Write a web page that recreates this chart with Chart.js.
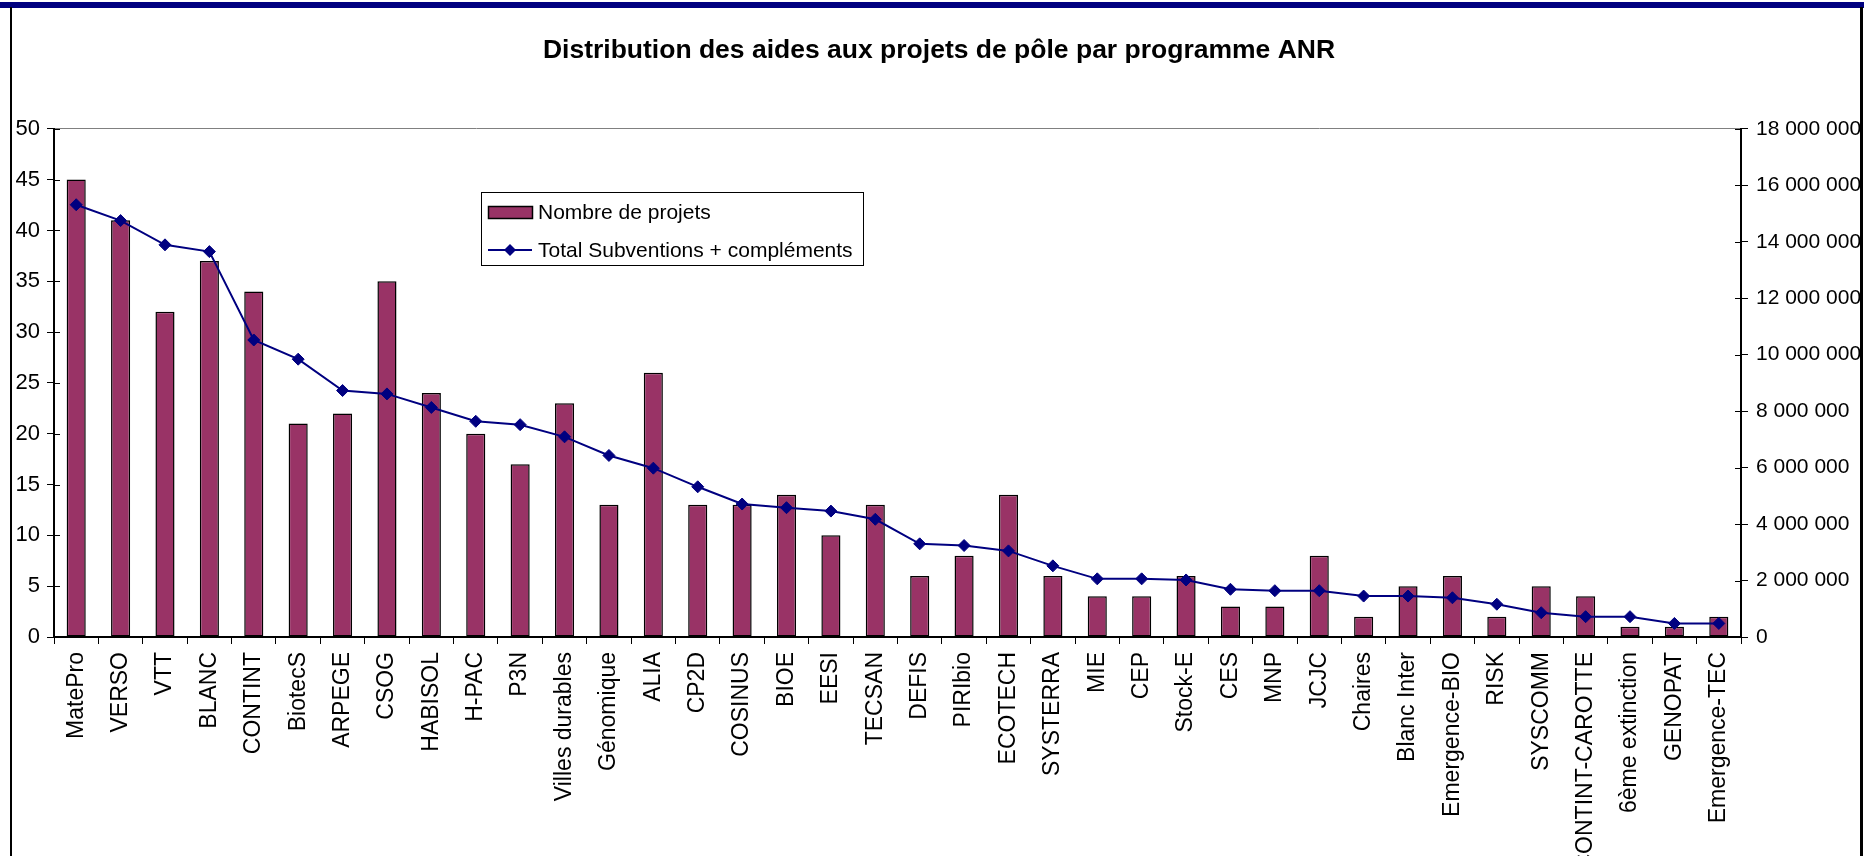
<!DOCTYPE html>
<html>
<head>
<meta charset="utf-8">
<script src="https://cdn.jsdelivr.net/npm/chart.js@4.4.0/dist/chart.umd.min.js"></script>
<style>
  html, body { margin: 0; padding: 0; background: #fff; overflow: hidden; }
  #wrap { position: relative; width: 1864px; height: 856px; overflow: hidden; }
  #topbar { position: absolute; left: 0; top: 2px; width: 1864px; height: 6px; background: #000080; }
  #frameL { position: absolute; left: 10px; top: 7px; width: 2px; height: 849px; background: #000; }
  #frameR { position: absolute; left: 1860px; top: 7px; width: 3px; height: 849px; background: #000; }
  canvas { position: absolute; left: 0; top: 0; }
</style>
</head>
<body>
<div id="wrap">
  <canvas id="canvas" width="1864" height="856"></canvas>
  <div id="topbar"></div>
  <div id="frameL"></div>
  <div id="frameR"></div>
</div>
<script>
const FONT = "'Liberation Sans', Arial, sans-serif";

const categories = ["MatePro", "VERSO", "VTT", "BLANC", "CONTINT", "BiotecS", "ARPEGE", "CSOG",
    "HABISOL", "H-PAC", "P3N", "Villes durables", "Génomique", "ALIA", "CP2D", "COSINUS",
    "BIOE", "EESI", "TECSAN", "DEFIS", "PIRIbio", "ECOTECH", "SYSTERRA", "MIE", "CEP",
    "Stock-E", "CES", "MNP", "JCJC", "Chaires", "Blanc Inter", "Emergence-BIO", "RISK",
    "SYSCOMM", "CONTINT-CAROTTE", "6ème extinction", "GENOPAT", "Emergence-TEC"];

const projets = [45, 41, 32, 37, 34, 21, 22, 35, 24, 20, 17, 23, 13, 26, 13, 13, 14, 10, 13,
    6, 8, 14, 6, 4, 4, 6, 3, 3, 8, 2, 5, 6, 2, 5, 4, 1, 1, 2];

const subventions = [15310000, 14750000, 13890000, 13650000, 10520000, 9840000, 8730000,
    8610000, 8130000, 7640000, 7520000, 7090000, 6430000, 5980000, 5320000, 4710000,
    4580000, 4460000, 4170000, 3300000, 3240000, 3050000, 2520000, 2060000, 2060000,
    2020000, 1690000, 1640000, 1640000, 1450000, 1450000, 1390000, 1160000, 860000,
    720000, 720000, 480000, 480000];

const leftTicks = [0, 5, 10, 15, 20, 25, 30, 35, 40, 45, 50];
const rightTicks = [0, 2000000, 4000000, 6000000, 8000000, 10000000, 12000000, 14000000, 16000000, 18000000];

const BAR_COLOR = "#993366";
const LINE_COLOR = "#000080";

function spaced(v) {
    return String(v).replace(/\B(?=(\d{3})+(?!\d))/g, " ");
}

// inner half of the "cross" tick marks on both value axes
const crossTicks = {
    id: 'crossTicks',
    afterDatasetsDraw(chart) {
        const ctx = chart.ctx;
        ctx.save();
        ctx.strokeStyle = "#000";
        ctx.lineWidth = 1;
        ['y', 'y1'].forEach(function (id) {
            const scale = chart.scales[id];
            const x = id === 'y' ? chart.chartArea.left : chart.chartArea.right;
            const dir = id === 'y' ? 1 : -1;
            scale.ticks.forEach(function (t) {
                const py = Math.round(scale.getPixelForValue(t.value)) + 0.5;
                ctx.beginPath();
                ctx.moveTo(x, py);
                ctx.lineTo(x + dir * 6, py);
                ctx.stroke();
            });
        });
        ctx.restore();
    }
};

const legendBox = {
    id: 'legendBox',
    afterDraw(chart) {
        const ctx = chart.ctx;
        const bar = chart.data.datasets[0];
        const line = chart.data.datasets[1];
        const x = 481, y = 192, w = 382, h = 73;
        ctx.save();
        ctx.fillStyle = "#fff";
        ctx.fillRect(x, y, w, h);
        ctx.strokeStyle = "#000";
        ctx.lineWidth = 1;
        ctx.strokeRect(x + 0.5, y + 0.5, w, h);

        ctx.fillStyle = bar.backgroundColor;
        ctx.fillRect(488, 206, 44, 12);
        ctx.lineWidth = 1.5;
        ctx.strokeRect(488.5, 206.5, 44, 12);

        ctx.strokeStyle = line.borderColor;
        ctx.lineWidth = 2;
        ctx.beginPath();
        ctx.moveTo(488, 250);
        ctx.lineTo(532, 250);
        ctx.stroke();
        ctx.fillStyle = line.borderColor;
        ctx.beginPath();
        ctx.moveTo(510, 244);
        ctx.lineTo(516, 250);
        ctx.lineTo(510, 256);
        ctx.lineTo(504, 250);
        ctx.closePath();
        ctx.fill();

        ctx.fillStyle = "#000";
        ctx.font = "21px " + FONT;
        ctx.textBaseline = "middle";
        ctx.fillText(bar.label, 538, 213);
        ctx.fillText(line.label, 538, 251);
        ctx.restore();
    }
};

const ctx = document.getElementById('canvas').getContext('2d');
const chart = new Chart(ctx, {
    data: {
        labels: categories,
        datasets: [{
            type: 'bar',
            label: 'Nombre de projets',
            data: projets,
            backgroundColor: BAR_COLOR,
            borderColor: '#000',
            borderWidth: 1.5,
            borderSkipped: false,
            barPercentage: 0.43,
            categoryPercentage: 1,
            yAxisID: 'y',
            order: 1
        }, {
            type: 'line',
            label: 'Total Subventions + compléments',
            data: subventions,
            borderColor: LINE_COLOR,
            backgroundColor: LINE_COLOR,
            borderWidth: 2,
            tension: 0,
            pointStyle: 'rectRot',
            pointRadius: 6,
            pointBackgroundColor: LINE_COLOR,
            pointBorderColor: LINE_COLOR,
            pointBorderWidth: 1,
            yAxisID: 'y1',
            order: 0
        }]
    },
    options: {
        responsive: false,
        animation: false,
        layout: { padding: { left: 14, right: 0, top: 0, bottom: 0 } },
        plugins: {
            legend: { display: false },
            tooltip: { enabled: false },
            title: {
                display: true,
                text: 'Distribution des aides aux projets de pôle par programme ANR',
                color: '#000',
                font: { family: FONT, size: 26.5, weight: 'bold' },
                padding: { top: 35, bottom: 62 }
            }
        },
        scales: {
            x: {
                offset: true,
                afterFit: function (scale) { scale.height = 219; },
                grid: {
                    offset: true,
                    drawOnChartArea: false,
                    tickColor: '#000',
                    tickLength: 7
                },
                border: { color: '#000', width: 2 },
                ticks: {
                    color: '#000',
                    font: { family: FONT, size: 23 },
                    autoSkip: false,
                    maxRotation: 90,
                    minRotation: 90,
                    padding: 8
                }
            },
            y: {
                position: 'left',
                min: 0,
                max: 50,
                afterFit: function (scale) { scale.width = 40; },
                afterBuildTicks: function (axis) {
                    axis.ticks = leftTicks.map(v => ({ value: v }));
                },
                grid: {
                    color: c => c.tick && c.tick.value === 50 ? '#808080' : 'rgba(0,0,0,0)',
                    tickColor: '#000',
                    tickLength: 7
                },
                border: { color: '#000', width: 2 },
                ticks: {
                    color: '#000',
                    font: { family: FONT, size: 22 },
                    padding: 7
                }
            },
            y1: {
                position: 'right',
                min: 0,
                max: 18000000,
                afterFit: function (scale) { scale.width = 123; },
                afterBuildTicks: function (axis) {
                    axis.ticks = rightTicks.map(v => ({ value: v }));
                },
                grid: {
                    drawOnChartArea: false,
                    tickColor: '#000',
                    tickLength: 7
                },
                border: { color: '#000', width: 2 },
                ticks: {
                    color: '#000',
                    font: { family: FONT, size: 21 },
                    padding: 8,
                    callback: v => spaced(v)
                }
            }
        }
    },
    plugins: [crossTicks, legendBox]
});
</script>
</body>
</html>
